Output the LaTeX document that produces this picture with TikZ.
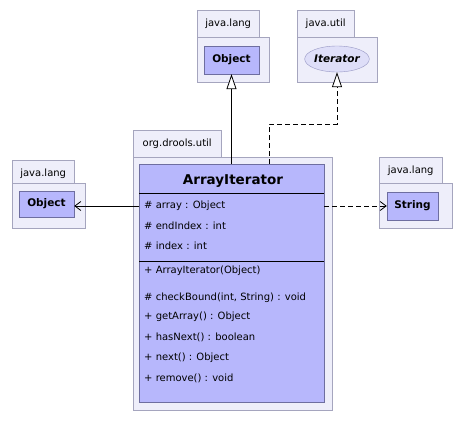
\documentclass[tikz,border=0pt]{standalone}
\usepackage{fontspec}
\setmainfont{DejaVu Sans}
\usepackage{xcolor}
\usetikzlibrary{positioning, arrows.meta, shapes.geometric, calc}
\definecolor{pkgFill}{RGB}{238,238,250}
\definecolor{pkgLine}{RGB}{165,165,190}
\definecolor{clsFill}{RGB}{183,183,252}
\definecolor{clsLine}{RGB}{110,110,160}
\definecolor{ifcFill}{RGB}{222,222,248}
\definecolor{ifcLine}{RGB}{150,150,195}

\begin{document}
\begin{tikzpicture}[
    x=1pt, y=-1pt,
    pkgtab/.style={rectangle, draw=pkgLine, fill=pkgFill, anchor=north west, minimum height=27pt, inner sep=0pt, font=\fontsize{10}{12}\selectfont},
    pkgbody/.style={rectangle, draw=pkgLine, fill=pkgFill, anchor=north west, inner sep=0pt},
    cls/.style={rectangle, draw=clsLine, fill=clsFill, inner sep=0pt, font=\fontsize{10.5}{12}\selectfont\bfseries},
    ifc/.style={ellipse, draw=ifcLine, fill=ifcFill, inner sep=0pt, font=\fontsize{10.5}{12}\selectfont\bfseries\itshape},
    mem/.style={anchor=west, inner sep=0pt, font=\fontsize{10}{12}\selectfont},
    gen/.style={-{Triangle[fill=white, length=15pt, width=10pt]}, line width=0.8pt},
    real/.style={gen, dash pattern=on 5pt off 3pt},
    assoc/.style={-{Straight Barb[length=6pt, width=9pt]}, line width=0.8pt},
    dep/.style={assoc, dash pattern=on 5pt off 3pt}
]
\useasboundingbox (0,0) rectangle (464,421);

% Packages
\node[pkgtab, minimum width=62pt] (langTopTab) at (197,10) {java.lang};
\node[pkgbody, minimum width=72pt, minimum height=45pt] (langTop) at (197,37) {};
\node[pkgtab, minimum width=57pt] (utilTab) at (297,10) {java.util};
\node[pkgbody, minimum width=80pt, minimum height=45pt] (util) at (297,37) {};
\node[pkgtab, minimum width=62pt] (langLeftTab) at (12,160) {java.lang};
\node[pkgbody, minimum width=73pt, minimum height=45pt] (langLeft) at (12,183) {};
\node[pkgtab, minimum width=63pt] (langRightTab) at (379,157) {java.lang};
\node[pkgbody, minimum width=73pt, minimum height=45pt] (langRight) at (379,183) {};
\node[pkgtab, minimum width=88pt] (droolsTab) at (133,130) {org.drools.util};
\node[pkgbody, minimum width=199pt, minimum height=253pt] (drools) at (133,157) {};

% Classes
\node[cls, minimum width=55pt, minimum height=28pt] (objT) at (231.5,60) {Object};
\node[ifc, minimum width=62pt, minimum height=26pt] (iter) at (337,59) {Iterator};
\node[cls, minimum width=55pt, minimum height=26pt] (objL) at (46.5,204) {Object};
\node[cls, minimum width=51pt, minimum height=28pt] (str) at (412.5,206) {String};

% ArrayIterator
\node[rectangle, draw=clsLine, fill=clsFill, anchor=north west, minimum width=185pt, minimum height=238pt, inner sep=0pt] (ai) at (139,164) {};
\node[font=\fontsize{13.5}{15}\selectfont\bfseries, inner sep=0pt] (aiName) at (233,181) {ArrayIterator};
\draw ($(ai.north west)+(0,29)$) -- ($(ai.north east)+(0,29)$);
\draw ($(ai.north west)+(0,97)$) -- ($(ai.north east)+(0,97)$);
\node[mem] (attArray) at (144,206) {\# array : Object};
\node[mem] (attEnd) at (144,226) {\# endIndex : int};
\node[mem] (attIndex) at (144,246) {\# index : int};
\node[mem] (opCtor) at (144,271) {+ ArrayIterator(Object)};
\node[mem] (opCheck) at (144,298) {\# checkBound(int, String) : void};
\node[mem] (opGet) at (144,317) {+ getArray() : Object};
\node[mem] (opHas) at (144,337) {+ hasNext() : boolean};
\node[mem] (opNext) at (144,358) {+ next() : Object};
\node[mem] (opRemove) at (144,378) {+ remove() : void};

% Arrows
\coordinate (bend) at (269,124);
\draw[gen] (ai.north -| objT) -- (objT);
\draw[real] (bend |- ai.north) -- (bend) -| (iter.south);
\draw[assoc] (ai.west |- attArray) -- (objL.east |- attArray);
\draw[dep] (ai.east |- attArray) -- (str.west |- attArray);
\end{tikzpicture}
\end{document}
